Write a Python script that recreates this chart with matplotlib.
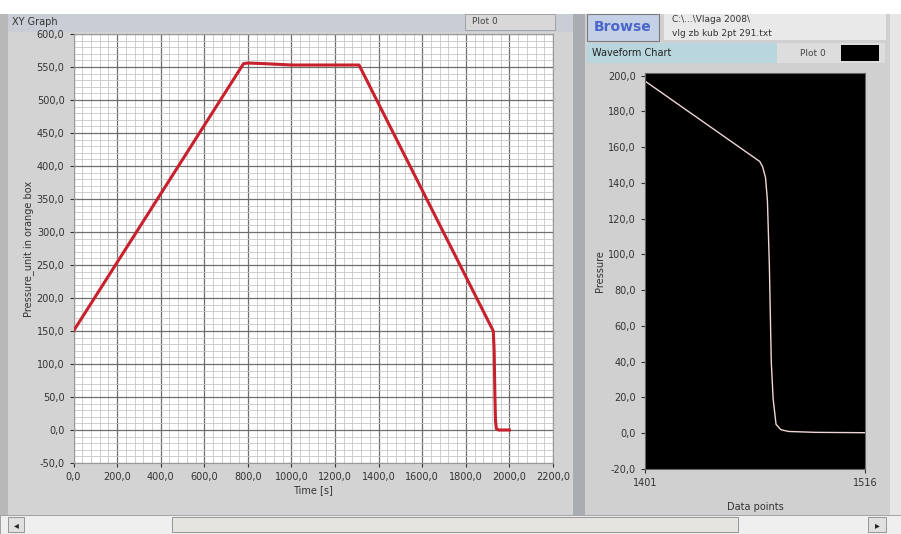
import matplotlib
matplotlib.use("Agg")
import matplotlib.pyplot as plt
from matplotlib.patches import Rectangle
from matplotlib.ticker import FuncFormatter, MultipleLocator, FixedLocator

# ---- data: XY Graph (left) ----
xy_time = [0, 780, 800, 880, 1000, 1200, 1310, 1926, 1930, 1933, 1936, 1940, 1950, 2000]
xy_pressure = [150, 555, 556, 555, 553, 553, 553, 150, 120, 60, 15, 2, 0, 0]
xy_xticks = [0, 200, 400, 600, 800, 1000, 1200, 1400, 1600, 1800, 2000, 2200]
xy_yticks = [-50, 0, 50, 100, 150, 200, 250, 300, 350, 400, 450, 500, 550, 600]

# ---- data: Waveform Chart (right) ----
wf_points = [1401, 1461, 1462.5, 1464, 1465, 1466, 1467, 1468, 1469.5, 1472, 1476, 1490, 1516]
wf_pressure = [197, 152, 149, 143, 130, 94, 40, 19, 5, 2, 1, 0.5, 0.3]
wf_yticks = [-20, 0, 20, 40, 60, 80, 100, 120, 140, 160, 180, 200]
wf_xticks = [1401, 1516]

W, H = 901, 534
fig = plt.figure(figsize=(W / 100, H / 100), dpi=100)
fig.patch.set_facecolor("#d4d2cf")


def box(x, y, w, h, fc, ec="none", lw=0.0, z=0):
    r = Rectangle((x / W, 1 - (y + h) / H), w / W, h / H, transform=fig.transFigure,
                  facecolor=fc, edgecolor=ec, linewidth=lw, zorder=z)
    fig.add_artist(r)


def txt(x, y, s, **kw):
    fig.text(x / W, 1 - y / H, s, **kw)


# window background pieces
box(0, 0, W, 14, "#ffffff")
box(0, 14, 8, 520, "#b8b8b8")
box(8, 14, 565, 501, "#d3d3d3")
box(573, 14, 12, 501, "#a9acb0")
box(585, 14, 305, 501, "#d0d0d0")
box(890, 14, 11, 520, "#e6e6e6")
# title bar of XY Graph
box(8, 14, 565, 18, "#c9ced6")
txt(12, 22, "XY Graph", fontsize=7, va="center", color="#333333")
box(465, 14, 90, 16, "#d8d8d8", ec="#9a9a9a", lw=0.6)
txt(472, 22, "Plot 0", fontsize=6.5, va="center", color="#444444")
# Browse button and path
box(587, 14, 72, 27, "#c4d0e6", ec="#7b7b7b", lw=0.8)
txt(623, 27, "Browse", fontsize=10, va="center", ha="center", color="#4a66c8", fontweight="bold")
box(664, 14, 222, 26, "#e9e9e9")
txt(672, 19, "C:\\...\\Vlaga 2008\\", fontsize=6.5, va="center", color="#333333")
txt(672, 33, "vlg zb kub 2pt 291.txt", fontsize=6.5, va="center", color="#333333")
# Waveform chart label and legend
box(587, 43, 190, 20, "#b9d6de")
txt(592, 53, "Waveform Chart", fontsize=7, va="center", color="#222222")
box(777, 43, 108, 20, "#dddddd")
txt(800, 53, "Plot 0", fontsize=6.5, va="center", color="#444444")
box(841, 45, 38, 16, "#000000")
# scrollbar
box(0, 515, W, 19, "#efefef", ec="#999999", lw=0.6)
box(8, 517, 16, 15, "#e0e0e0", ec="#888888", lw=0.6)
txt(16, 525, "◂", fontsize=7, ha="center", va="center", color="#222222")
box(172, 517, 566, 15, "#e6e4e0", ec="#888888", lw=0.6)
box(868, 517, 18, 15, "#e0e0e0", ec="#888888", lw=0.6)
txt(877, 525, "▸", fontsize=7, ha="center", va="center", color="#222222")

comma = FuncFormatter(lambda v, p: f"{v:.1f}".replace(".", ","))
comma_int = FuncFormatter(lambda v, p: f"{int(v)}")

# ---- left XY graph ----
ax = fig.add_axes([73.5 / W, 1 - 463 / H, 479.5 / W, 429 / H])
ax.set_facecolor("#ffffff")
ax.plot(xy_time, xy_pressure, color="#c8202c", linewidth=2.2, zorder=3)
ax.set_xlim(0, 2200)
ax.set_ylim(-50, 600)
ax.xaxis.set_major_locator(FixedLocator(xy_xticks))
ax.yaxis.set_major_locator(FixedLocator(xy_yticks))
ax.xaxis.set_minor_locator(MultipleLocator(40))
ax.yaxis.set_minor_locator(MultipleLocator(10))
ax.xaxis.set_major_formatter(comma)
ax.yaxis.set_major_formatter(comma)
ax.grid(which="major", color="#6e6e6e", linewidth=0.9)
ax.grid(which="minor", color="#c6c6c6", linewidth=0.6)
ax.set_axisbelow(True)
ax.tick_params(labelsize=7, length=3, color="#333333", labelcolor="#333333")
ax.tick_params(which="minor", length=0)
for s in ax.spines.values():
    s.set_color("#9a9a9a")
    s.set_linewidth(0.8)
ax.set_xlabel("Time [s]", fontsize=7, color="#333333", labelpad=2)
ax.set_ylabel("Pressure_unit in orange box", fontsize=7, color="#333333", labelpad=2)

# ---- right waveform chart ----
ax2 = fig.add_axes([645 / W, 1 - 469 / H, 220 / W, 396 / H])
ax2.set_facecolor("#000000")
ax2.plot(wf_points, wf_pressure, color="#f0d6d6", linewidth=1.0)
ax2.set_xlim(1401, 1516)
ax2.set_ylim(-20, 201.5)
ax2.xaxis.set_major_locator(FixedLocator(wf_xticks))
ax2.yaxis.set_major_locator(FixedLocator(wf_yticks))
ax2.xaxis.set_major_formatter(comma_int)
ax2.yaxis.set_major_formatter(comma)
ax2.tick_params(labelsize=7, length=3, color="#333333", labelcolor="#333333")
for s in ax2.spines.values():
    s.set_color("#666666")
ax2.set_xlabel("Data points", fontsize=7, color="#333333", labelpad=10)
ax2.set_ylabel("Pressure", fontsize=7, color="#333333", labelpad=2)

fig.savefig("out.png", dpi=100, facecolor=fig.get_facecolor())
